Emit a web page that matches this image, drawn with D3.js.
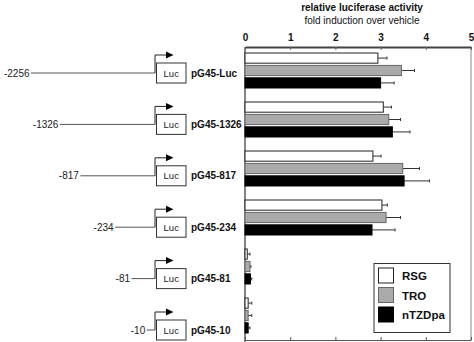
<!DOCTYPE html>
<html>
<head>
<meta charset="utf-8">
<script src="https://cdn.jsdelivr.net/npm/d3@7/dist/d3.min.js"></script>
<style>
  html, body { margin: 0; padding: 0; background: #fff; }
  svg { display: block; font-family: "Liberation Sans", Arial, sans-serif; }
</style>
</head>
<body>
<svg id="chart" width="474" height="342"></svg>
<script>
// Reporter constructs (promoter deletion series) and their 5' end positions
const constructs = ["pG45-Luc", "pG45-1326", "pG45-817", "pG45-234", "pG45-81", "pG45-10"];
const promoterStart = [2256, 1326, 817, 234, 81, 10];

// Treatments
const series = ["RSG", "TRO", "nTZDpa"];

// Fold induction over vehicle (mean) and error (SD)
const rsgValues    = [2.94, 3.06, 2.83, 3.03, 0.05, 0.07];
const rsgErrors    = [0.20, 0.18, 0.18, 0.12, 0.06, 0.08];
const troValues    = [3.46, 3.18, 3.49, 3.12, 0.11, 0.07];
const troErrors    = [0.29, 0.26, 0.37, 0.32, 0.02, 0.08];
const ntzdpaValues = [3.00, 3.26, 3.52, 2.81, 0.12, 0.07];
const ntzdpaErrors = [0.30, 0.39, 0.56, 0.51, 0.03, 0.04];

const xTicks = [0, 1, 2, 3, 4, 5];

const values = [rsgValues, troValues, ntzdpaValues];
const errors = [rsgErrors, troErrors, ntzdpaErrors];

const fills   = { "RSG": "#ffffff", "TRO": "#aaaaaa", "nTZDpa": "#000000" };
const strokes = { "RSG": "#222222", "TRO": "#666666", "nTZDpa": "#000000" };

const svg = d3.select("#chart");

// Plot frame
const plot = { left: 245, right: 471, top: 47, bottom: 340 };

const x = d3.scaleLinear().domain([0, 5]).range([plot.left, plot.right]);
const yGroup = d3.scaleBand().domain(constructs)
  .range([plot.top - 1, plot.bottom]).paddingInner(0.286).paddingOuter(0.143);
const ySeries = d3.scaleBand().domain(series)
  .range([0, yGroup.bandwidth()]).paddingInner(0.18);

// Frame lines
svg.append("line").attr("x1", plot.right).attr("x2", plot.right)
  .attr("y1", plot.top).attr("y2", plot.bottom)
  .attr("stroke", "#9a9a9a").attr("stroke-width", 1.2);
svg.append("line").attr("x1", plot.left).attr("x2", plot.left)
  .attr("y1", plot.top).attr("y2", plot.bottom + 2)
  .attr("stroke", "#333").attr("stroke-width", 1.2);

// Top axis with inward ticks
const topAxis = svg.append("g").attr("transform", `translate(0,${plot.top})`)
  .call(d3.axisTop(x).tickValues(xTicks).tickFormat(d3.format("d"))
    .tickSizeInner(-3).tickSizeOuter(0).tickPadding(6));
topAxis.select(".domain").attr("stroke", "#444").attr("stroke-width", 1.8);
topAxis.selectAll(".tick line").attr("stroke", "#666");
topAxis.selectAll(".tick text")
  .attr("font-family", "Liberation Sans, Arial, sans-serif")
  .attr("font-size", 10).attr("font-weight", "bold").attr("fill", "#111");

// Bottom axis (ticks only)
const bottomAxis = svg.append("g").attr("transform", `translate(0,${plot.bottom})`)
  .call(d3.axisBottom(x).tickValues(xTicks).tickFormat("")
    .tickSizeInner(-3).tickSizeOuter(0));
bottomAxis.select(".domain").attr("stroke", "#555").attr("stroke-width", 1.2);
bottomAxis.selectAll(".tick line").attr("stroke", "#555");

// Axis title
svg.append("text").attr("x", 362).attr("y", 11).attr("text-anchor", "middle")
  .attr("font-size", 10).attr("font-weight", "bold").attr("fill", "#111")
  .text("relative luciferase activity");
svg.append("text").attr("x", 362).attr("y", 24).attr("text-anchor", "middle")
  .attr("font-size", 10).attr("fill", "#111")
  .text("fold induction over vehicle");

// Bars and error bars
const barData = [];
constructs.forEach((c, i) => {
  series.forEach((s, j) => {
    barData.push({ construct: c, series: s, value: values[j][i], error: errors[j][i] });
  });
});

const bars = svg.append("g").selectAll("g").data(barData).join("g")
  .attr("transform", d => `translate(0,${yGroup(d.construct) + ySeries(d.series)})`);

bars.append("line")
  .attr("x1", d => x(d.value)).attr("x2", d => x(d.value + d.error))
  .attr("y1", ySeries.bandwidth() / 2).attr("y2", ySeries.bandwidth() / 2)
  .attr("stroke", "#333").attr("stroke-width", 1);
bars.append("line")
  .attr("x1", d => x(d.value + d.error)).attr("x2", d => x(d.value + d.error))
  .attr("y1", ySeries.bandwidth() / 2 - 1.5).attr("y2", ySeries.bandwidth() / 2 + 1.5)
  .attr("stroke", "#333").attr("stroke-width", 1);
bars.append("rect")
  .attr("x", x(0)).attr("y", 0)
  .attr("width", d => x(d.value) - x(0))
  .attr("height", ySeries.bandwidth())
  .attr("fill", d => fills[d.series])
  .attr("stroke", d => strokes[d.series]).attr("stroke-width", 1);

// Legend
const legend = svg.append("g");
legend.append("rect").attr("x", 374).attr("y", 263.5).attr("width", 76).attr("height", 69)
  .attr("fill", "#fff").attr("stroke", "#333").attr("stroke-width", 1);
const legendY = d3.scalePoint().domain(series).range([275.5, 314.5]);
const items = legend.selectAll("g.item").data(series).join("g").attr("class", "item");
items.append("rect")
  .attr("x", 378.5).attr("y", d => legendY(d) - 7.5)
  .attr("width", 15).attr("height", 15)
  .attr("fill", d => fills[d]).attr("stroke", d => strokes[d]).attr("stroke-width", 1);
items.append("text")
  .attr("x", 402).attr("y", d => legendY(d) + 4.5)
  .attr("font-size", 11.5).attr("font-weight", "bold").attr("fill", "#111")
  .text(d => d);

// Promoter schematics
const promoterX = 155;
const rowY = d3.scalePoint().domain(constructs).range([73, 330]);
const lengthX = d3.scaleSqrt().domain([0, 2256]).range([promoterX, 31]);

const rows = svg.append("g").selectAll("g").data(constructs).join("g")
  .attr("transform", c => `translate(0,${rowY(c)})`);

// Upstream region
rows.append("line")
  .attr("x1", (c, i) => lengthX(promoterStart[i])).attr("x2", promoterX)
  .attr("y1", 0).attr("y2", 0).attr("stroke", "#555").attr("stroke-width", 1);
rows.append("text")
  .attr("x", (c, i) => lengthX(promoterStart[i]) - 1.5).attr("y", 3.5)
  .attr("text-anchor", "end").attr("font-size", 10).attr("fill", "#222")
  .text((c, i) => "-" + promoterStart[i]);

// Transcription start arrow
rows.append("path")
  .attr("d", `M${promoterX},0 V-18 H167`)
  .attr("fill", "none").attr("stroke", "#222").attr("stroke-width", 1);
rows.append("path")
  .attr("d", "M166,-21.5 L173.5,-18 L166,-14.5 Z").attr("fill", "#000");

// Luciferase box
rows.append("rect")
  .attr("x", 156.5).attr("y", -10).attr("width", 29.5).attr("height", 20)
  .attr("fill", "#fff").attr("stroke", "#333").attr("stroke-width", 1);
rows.append("text")
  .attr("x", 171.25).attr("y", 3.5).attr("text-anchor", "middle")
  .attr("font-size", 9.5).attr("fill", "#222").text("Luc");

// Construct names
rows.append("text")
  .attr("x", 191).attr("y", 3.5)
  .attr("font-size", 10).attr("font-weight", "bold").attr("fill", "#111")
  .text(c => c);
</script>
</body>
</html>
